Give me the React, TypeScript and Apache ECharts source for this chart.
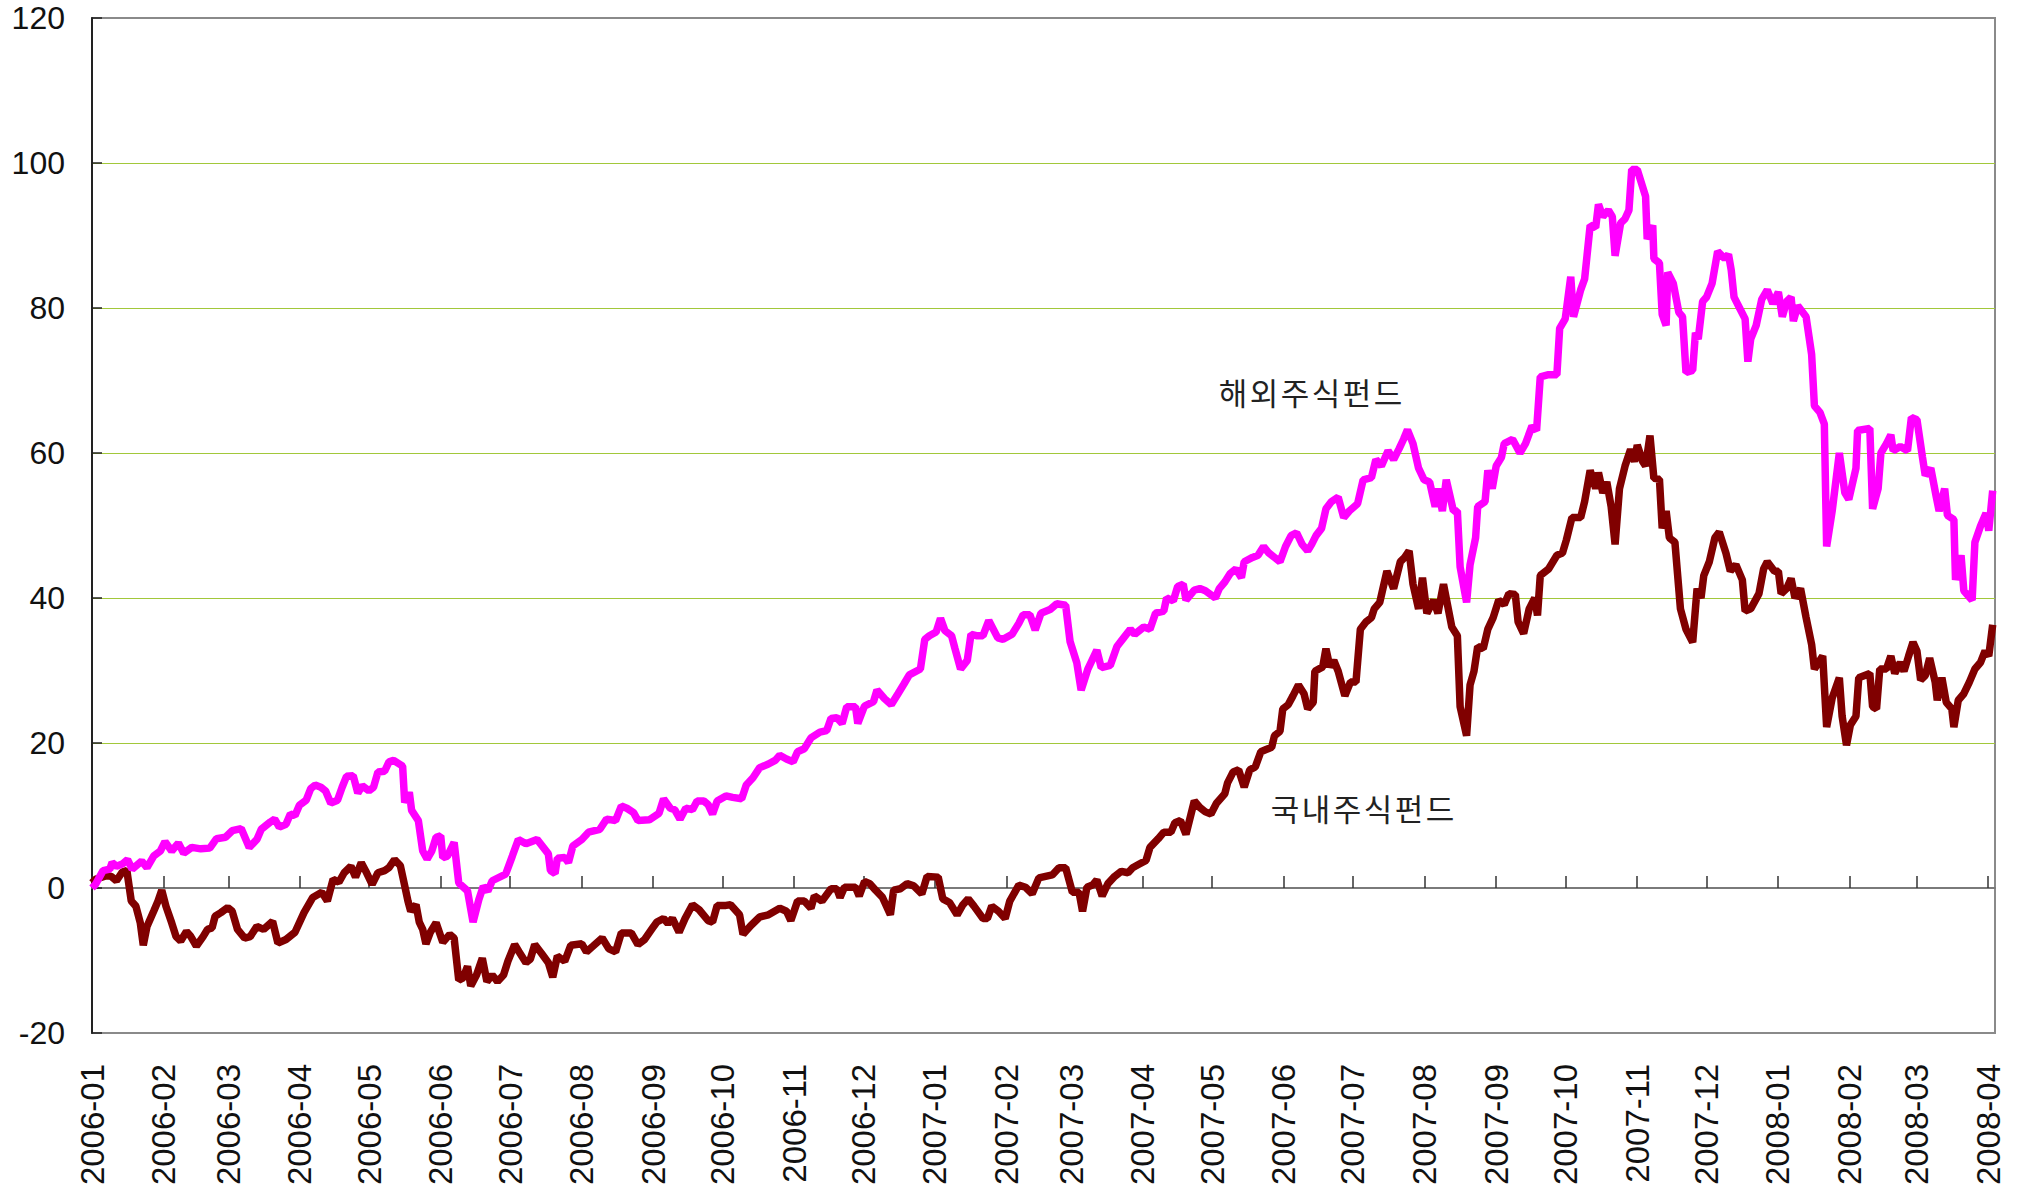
import React, { useEffect, useRef } from 'react';
import * as echarts from 'echarts';

// x values are days counted from 2006-01-01
const monthDays = [0, 31, 59, 90, 120, 151, 181, 212, 243, 273, 304, 334, 365, 396, 424, 455, 485, 516, 546, 577, 608, 638, 669, 699, 730, 761, 790, 821];
const monthLabels = ['2006-01', '2006-02', '2006-03', '2006-04', '2006-05', '2006-06', '2006-07', '2006-08', '2006-09', '2006-10', '2006-11', '2006-12', '2007-01', '2007-02', '2007-03', '2007-04', '2007-05', '2007-06', '2007-07', '2007-08', '2007-09', '2007-10', '2007-11', '2007-12', '2008-01', '2008-02', '2008-03', '2008-04'];

const foreignName = '해외주식펀드';
const domesticName = '국내주식펀드';

// 해외주식펀드 [day, value]
const foreignFund: [number, number][] = [
  [0, 0], [1.5, 0.5], [4.8, 2.4], [7.7, 2.6], [8.7, 3.5], [10.6, 3], [13.1, 3.3], [15.4, 3.9], [17.4, 2.6], [21.5, 3.7], [23.8, 2.8], [26.7, 4.4], [29.6, 5.1], [31.6, 6.4], [34.5, 5.1], [37.4, 6.2], [39.7, 4.8], [43.2, 5.6], [47.1, 5.4], [51, 5.5], [53.9, 6.8], [57.8, 7], [60.7, 7.9], [64.6, 8.2], [68.1, 5.6], [71.4, 6.7], [73.3, 8.1], [77.2, 9.1], [79.1, 9.5], [81.1, 8.4], [84, 8.8], [85.9, 10.2], [87.9, 10], [89.8, 11.4], [92.7, 12.1], [94.7, 13.7], [96.6, 14.2], [99.1, 13.9], [101.1, 13.4], [103.4, 11.7], [106.3, 12.1], [108.3, 13.9], [110.2, 15.4], [113.1, 15.5], [115.1, 13.1], [117, 14.1], [119.9, 13.4], [121.9, 13.9], [123.8, 16], [126.7, 16.1], [128.6, 17.4], [130.6, 17.6], [134.5, 16.8], [135.4, 11.8], [137.4, 13.2], [138.4, 10.7], [141.3, 9.3], [143.2, 5.1], [145.1, 4], [147.1, 5.1], [149, 7], [151, 7.2], [151.9, 4.2], [153.9, 4.4], [156.8, 6.3], [158.8, 0.7], [162.6, -0.4], [165, -4.7], [167.5, -1.6], [169.4, 0.2], [171.4, -0.4], [173.3, 1], [179.1, 1.9], [182, 4.4], [184.6, 6.7], [187.9, 6.1], [192.7, 6.7], [197.6, 4.7], [198.5, 2.4], [200.5, 2], [201.5, 4.1], [204.7, 4.2], [206.3, 3.5], [208.2, 5.8], [212.1, 6.7], [215, 7.7], [219.9, 8.1], [222.8, 9.5], [226.7, 9.3], [229.2, 11.3], [231.6, 11], [234.5, 10.4], [236.4, 9.3], [241.3, 9.4],
  [245.5, 10.3], [247.5, 12.3], [250.4, 11], [252.3, 10.8], [254.6, 9.5], [257.1, 11], [260, 10.8], [262, 12], [264.9, 12], [266.8, 11.5], [268.7, 10.2], [270.7, 12], [274.5, 12.7], [277.4, 12.5], [281.3, 12.3], [283.3, 14.2], [286.2, 15.2], [289.1, 16.6], [292.9, 17.1], [295.8, 17.6], [297.8, 18.3], [300.7, 17.8], [303.6, 17.4], [305.5, 18.8], [308.4, 19.2], [311.3, 20.7], [315.2, 21.5], [318.1, 21.7], [320, 23.4], [322.5, 23.5], [324.8, 22.7], [326.8, 25], [330.6, 25], [331.6, 22.7], [334.5, 25.1], [338.4, 25.7], [339.9, 27.3], [343.2, 26.1], [346.1, 25.3], [349, 26.8], [351.5, 28.1], [353.9, 29.4], [358.7, 30.2], [360.6, 34.3], [362.6, 34.8], [365.5, 35.3], [367.4, 37.2], [369.3, 35.5], [372.2, 34.8], [373.6, 33.1], [376.1, 30.2], [379, 31.4], [380.6, 35], [382.9, 34.8], [385.8, 34.8], [388.3, 36.9], [392.2, 34.5], [394.5, 34.3], [398.4, 35], [401.3, 36.5], [403.2, 37.7], [406.1, 37.7], [408.4, 35.6], [410.9, 37.9], [414.8, 38.4], [417.7, 39.2], [421.6, 39], [423.5, 34], [426.4, 31.1], [428.3, 27.3], [431.2, 30.2], [435.1, 32.8], [437, 30.4], [440.9, 30.7], [443.8, 33.3], [446.7, 34.5], [449.6, 35.7], [451.5, 35], [455.4, 36],
  [458.1, 35.7], [460.5, 37.9], [464.1, 38.2], [465.3, 40], [468.2, 39.6], [470.1, 41.6], [472.5, 41.9], [473.7, 39.7], [477.3, 41.1], [479.7, 41.3], [482.1, 41], [486.4, 40], [488.1, 41.3], [490.5, 42.2], [492.9, 43.4], [495.3, 44], [497.7, 42.8], [498.9, 45], [502.5, 45.6], [504.9, 45.9], [507.3, 47.1], [509.6, 46.2], [512, 45.6], [514.4, 45], [516.8, 47.1], [519.2, 48.6], [521.6, 49], [524, 47.4], [526.4, 46.5], [528.1, 47.4], [530, 48.6], [532.4, 49.6], [534.3, 52.3], [536.7, 53.3], [539.6, 53.9], [542, 51.1], [544.4, 52], [548, 53], [550.4, 56.3], [554, 56.6], [555.9, 59.1], [558.3, 58.2], [561.2, 60.3], [563.6, 59.1], [566, 60.6], [567.9, 61.9], [569.6, 63.2], [572, 61.3], [574.4, 57.9], [576.8, 56.3], [579.2, 56], [581.6, 52.6], [582.8, 55.1], [584.7, 52], [586.4, 56.3], [589.5, 52], [591.2, 52], [592.4, 44.3], [595.2, 39.4], [596.7, 44.6], [599.1, 48.3], [600, 52.6], [603.2, 53.3], [604.4, 57.6], [606.3, 55.1], [608, 58.2], [610.3, 59.4], [611.5, 61.3], [615.1, 61.9], [618.3, 60], [620.7, 61.3], [623.5, 63.7], [625.5, 63.1], [627.1, 70.5], [630.7, 70.8], [634.3, 70.8], [635.5, 77.2], [637.9, 78.5], [640.3, 84.3], [641.5, 78.8], [644.6, 82.5], [646.3, 84], [648.7, 91.4], [651.1, 91.1], [652.3, 94.3], [654.2, 92.6], [656.6, 93.5], [658.3, 92.6], [659.5, 87.2], [661.9, 91.7], [663.8, 92.3], [665.5, 93.5], [666.7, 99.1], [669.1, 99.1], [672.7, 95.4], [673.4, 89.5], [675.8, 91.4], [676.3, 86.8], [678.7, 86.2], [679.9, 79.1], [681.6, 77.6], [682.3, 84.9], [684.7, 83.4], [687.1, 79.4], [688.7, 78.8], [690.2, 71.1], [693.1, 71.4], [694.3, 76.6], [695.5, 75.7], [697.4, 80.9], [699.1, 81.5], [701.5, 83.4], [703.9, 87.8], [707, 86.8], [708.6, 87.4], [709.8, 85.2], [711, 81.5], [713.4, 80], [715.8, 78.5], [717, 72.6], [718.2, 75.7], [720.6, 77.6], [723, 81.2], [725.4, 82.5], [727.8, 80.6], [730.2, 82.2], [731.9, 78.8], [733.8, 80.9], [735.7, 81.5], [736.7, 78.2], [738.6, 80.3], [742.2, 78.8], [744.6, 73.6], [745.8, 66.5], [748.2, 65.6], [750.1, 64], [751.1, 47.1], [753.5, 52], [756.6, 60], [759, 54.5], [760.7, 53.6], [763.8, 57.9], [764.5, 63.1], [769.8, 63.4], [771, 52.3], [773.4, 55.1], [774.6, 60], [777, 61.3], [778.9, 62.5], [779.9, 60.3], [783, 60.9], [786.1, 60.3], [787.8, 64.9], [790.2, 64.6], [792.6, 59.4], [793.8, 56.9], [796.2, 57.9], [798.6, 53.9], [799.8, 52], [802.2, 55.1], [803.4, 51.4], [806.2, 50.8], [806.9, 42.5], [809.3, 45.9], [810.5, 41], [814.1, 39.7], [815.3, 47.7], [817.7, 49.9], [820.1, 51.7], [821.3, 49.3], [823, 54.8],
];

// 국내주식펀드 [day, value]
const domesticFund: [number, number][] = [
  [0, 0.7], [1.5, 1.2], [6.3, 1.7], [8.3, 1.6], [10.6, 1], [13.1, 2.2], [15.1, 2.4], [17, -1.8], [19, -2.5], [20.9, -4.8], [22.2, -7.9], [23.8, -5.3], [26.7, -3.2], [28.6, -1.8], [30.2, -0.3], [32, -2.5], [34.5, -4.8], [36.4, -6.7], [38.4, -7.3], [40.9, -6], [42.8, -6.7], [45.2, -8], [48.1, -6.7], [50, -5.7], [52, -5.5], [53.3, -3.9], [55.8, -3.4], [58.8, -2.7], [60.7, -3.2], [63, -5.7], [66.1, -6.9], [68.5, -6.7], [71.4, -5.3], [74.3, -5.7], [78.2, -4.6], [80.5, -7.6], [84, -7.1], [87.9, -6.1], [91.8, -3.4], [95.6, -1.3], [99.5, -0.6], [101.9, -1.8], [104.4, 1.2], [106.9, 0.8], [109.2, 2.1], [112.1, 3], [114.1, 1.5], [116.6, 3.5], [118.9, 2.1], [121.3, 0.5], [123.8, 2.1], [126.7, 2.4], [128.6, 2.8], [131, 3.9], [133.5, 3.1], [135.4, 0.3], [136.8, -1.8], [138, -3.2], [140.3, -2.3], [141.7, -4.7], [143.2, -5.7], [144.6, -7.7], [146.5, -6.1], [149, -4.8], [151.9, -7.5], [154.9, -6.4], [156.8, -6.9], [158.8, -12.7], [160.7, -12.4], [162.6, -10.8], [164, -13.5], [166.5, -12], [169, -9.7], [171, -12.9], [173.3, -12], [175.6, -12.9], [178.2, -12], [180.1, -10.1], [183, -7.8], [184.9, -8.8], [187.9, -10.3], [189.8, -9.8], [191.7, -7.8], [194.6, -9], [197.6, -10.3], [199.5, -12.3], [201.5, -9.4], [204.7, -10.1], [207.3, -7.9], [212.1, -7.7], [214.1, -8.8], [217, -8], [220.9, -6.9], [223.8, -8.4], [226.7, -8.8], [229.2, -6.2], [233.5, -6.2], [236.4, -7.8], [239.3, -7.1], [243.2, -5.3],
  [244.6, -4.7], [247.5, -4.2], [249.4, -4.9], [251.3, -4.2], [254.2, -6.1], [256.8, -4.2], [260, -2.3], [262.9, -3], [266.8, -4.5], [268.7, -4.7], [270.7, -2.4], [274.5, -2.4], [276.5, -2.3], [280.4, -3.7], [281.9, -6.4], [285.2, -5.2], [289.1, -4], [292.9, -3.7], [297.8, -2.8], [300.7, -3.2], [302.6, -4.5], [305.5, -1.8], [308.4, -1.8], [311.3, -2.8], [312.8, -1.1], [316.1, -1.8], [320, -0.1], [322.5, -0.1], [323.9, -1.3], [325.8, 0.1], [330.6, 0.1], [332.2, -1.1], [334.5, 0.9], [336.8, 0.6], [339.3, -0.3], [342.3, -1.3], [345.7, -3.7], [347.1, -0.3], [350, -0.1], [352.9, 0.6], [355.8, 0.3], [359.3, -0.8], [361.6, 1.6], [366.4, 1.5], [368.4, -1.5], [371.3, -2], [374.6, -3.7], [377.1, -2.3], [379.4, -1.5], [381.9, -2.5], [385.8, -4.2], [387.7, -4.2], [389.6, -2.5], [392.5, -3.2], [395.4, -4.2], [397.4, -1.8], [401.3, 0.4], [404.2, 0.1], [407.1, -0.8], [410, 1.4], [415.8, 1.8], [418.7, 2.8], [421.6, 2.8], [424.5, -0.6], [427.4, -0.6], [428.9, -3.2], [430.8, 0.1], [433.2, 0.4], [435.1, 1.1], [437.4, -1.1], [439.9, 0.6], [442.8, 1.6], [445.7, 2.3], [448.6, 2.1], [450.6, 2.8], [453.5, 3.3], [456.4, 3.8],
  [458.1, 5.6], [461.7, 6.8], [464.1, 7.7], [467.2, 7.7], [468.9, 9], [471.3, 9.3], [473.7, 7.4], [477.3, 12], [479.7, 11.1], [482.1, 10.5], [484.5, 10.2], [486.9, 11.7], [490.5, 13], [491.7, 14.5], [494.1, 16], [496.5, 16.3], [498.9, 13.9], [501.3, 16.3], [503.7, 16.7], [506.1, 18.8], [508.4, 19.1], [510.8, 19.4], [512, 21], [514.4, 21.6], [515.6, 24.7], [518, 25.3], [520, 26.5], [522.4, 28], [524.8, 26.8], [526.4, 24.7], [528.8, 25.6], [529.5, 29.9], [532.9, 30.5], [534.3, 33], [536, 30.5], [537.7, 31.4], [539.6, 29.9], [542.5, 26.5], [544.9, 28.4], [547.3, 28.4], [549.2, 35.7], [551.6, 36.7], [554, 37.3], [555.2, 38.5], [557.6, 39.4], [560.7, 43.7], [563.6, 41.3], [566.5, 45], [568.4, 45.6], [570.3, 46.5], [572, 41.9], [574.4, 38.5], [576.1, 42.8], [578, 37.9], [580.9, 39.7], [582.8, 37.9], [585.2, 41.9], [588.8, 36], [591.2, 34.8], [592.4, 25], [595.2, 21], [596.7, 28], [598.4, 29.9], [600, 33.3], [602.4, 33], [604.4, 35.7], [606.7, 37.3], [609.1, 39.7], [611.5, 39.1], [613.5, 40.6], [616.3, 40.5], [617.5, 36.7], [619.9, 35.1], [622.3, 38.5], [624.7, 40], [625.9, 37.6], [627.1, 43.1], [630.7, 44], [634.3, 45.9], [636.7, 46.2], [638.4, 48], [640.8, 51.1], [644.6, 51.1], [646.3, 53.3], [648.7, 57.6], [651.1, 55.1], [652.3, 57.3], [654.2, 54.5], [655.9, 56], [657.8, 52.6], [659.5, 47.4], [661.4, 55.1], [663.8, 58.2], [666.2, 60.5], [667.9, 58.8], [669.1, 61.1], [671.5, 58.8], [672.7, 58.2], [674.6, 62.4], [676.3, 56.5], [678.7, 56.4], [679.9, 49.6], [681.6, 52], [683, 48.3], [685.4, 47.7], [687.8, 38.5], [690.2, 35.7], [693.1, 33.9], [695, 41.3], [696.7, 40], [697.9, 43.1], [700.3, 45], [702.7, 48.3], [704.6, 49.1], [707.5, 46.2], [709.4, 43.7], [711.8, 44.6], [714.6, 42.5], [715.8, 38.2], [718.2, 38.5], [721.8, 40.6], [723.8, 44], [725.4, 45], [728.5, 43.7], [730.2, 43.7], [731.4, 40.6], [733.8, 41.3], [735.7, 42.7], [737.4, 40], [739.8, 41.3], [742.2, 37.3], [744.6, 33.6], [745.8, 30.2], [749.4, 32], [751.1, 22.2], [753.5, 26.2], [756.6, 29], [757.8, 23.7], [759.7, 19.7], [761.4, 22.5], [763.8, 23.7], [765, 29], [769.8, 29.6], [771, 25], [772.7, 24.7], [774.1, 30.2], [777, 30.2], [778.9, 32], [780.6, 29.6], [783, 31.1], [784.6, 29.9], [786.6, 32], [788.5, 33.9], [790.2, 32.7], [791.8, 28.7], [793.8, 29.3], [795.7, 31.7], [798.1, 28.4], [799, 25.9], [801, 29], [802.9, 25.6], [805.3, 24.7], [806.2, 22.2], [808.1, 25.9], [810.5, 26.8], [812.9, 28.4], [815.3, 30.2], [817.7, 31.1], [819.7, 32.7], [821.3, 32], [823, 36.3],
];

const yMin = -20;
const yMax = 120;
const yStep = 20;
const xMax = 824;

const LATIN = '"Liberation Sans", Arial, sans-serif';
const KOREAN = '"Noto Sans CJK KR", "Noto Sans", sans-serif';

// spaced-out annotation text, one glyph per element
function spacedText(text: string, firstCenterX: number, centerY: number, pitch: number) {
  return {
    type: 'group',
    children: Array.from(text).map((ch, i) => ({
      type: 'text',
      x: firstCenterX + i * pitch,
      y: centerY,
      style: { text: ch, font: `31px ${KOREAN}`, fill: '#222', verticalAlign: 'middle', align: 'center' },
    })),
  };
}

export default function App() {
  const ref = useRef<HTMLDivElement>(null);

  useEffect(() => {
    if (!ref.current) return;
    const chart = echarts.init(ref.current, undefined, { renderer: 'svg' });
    const green = '#a2c83a';
    const option: any = {
      animation: false,
      backgroundColor: '#ffffff',
      grid: {
        left: 92,
        right: 23,
        top: 18,
        bottom: 170,
        show: true,
        borderColor: '#8a8a8a',
        borderWidth: 2,
        backgroundColor: 'transparent',
        outerBoundsMode: 'none',
      },
      xAxis: [
        {
          type: 'value',
          min: 0,
          max: xMax,
          position: 'bottom',
          axisLine: { show: false, onZero: false },
          axisTick: { show: false },
          splitLine: { show: false },
          axisLabel: {
            customValues: monthDays,
            rotate: 90,
            margin: 31,
            fontSize: 33,
            fontFamily: LATIN,
            color: '#111',
            formatter: (v: number) => {
              const i = monthDays.indexOf(v);
              return i >= 0 ? monthLabels[i] : '';
            },
          },
        },
        {
          type: 'value',
          min: 0,
          max: xMax,
          position: 'bottom',
          axisLine: { show: true, onZero: true, lineStyle: { color: '#7a7a7a', width: 2 } },
          axisTick: { show: true, inside: true, length: 12, customValues: monthDays, lineStyle: { color: '#333', width: 1.5 } },
          axisLabel: { show: false },
          splitLine: { show: false },
        },
      ],
      yAxis: {
        type: 'value',
        min: yMin,
        max: yMax,
        interval: yStep,
        axisLine: { show: true, lineStyle: { color: '#222', width: 2 } },
        axisTick: { show: true, inside: true, length: 10, lineStyle: { color: '#222', width: 1.5 } },
        axisLabel: { fontSize: 32, fontFamily: LATIN, color: '#111', margin: 27 },
        splitLine: {
          show: true,
          showMinLine: true,
          showMaxLine: true,
          lineStyle: { color: ['transparent', 'transparent', green, green, green, green, green, 'transparent'], width: 1.2 },
        },
      },
      series: [
        {
          name: domesticName,
          type: 'line',
          xAxisIndex: 0,
          data: domesticFund,
          showSymbol: false,
          symbol: 'none',
          lineStyle: { color: '#800000', width: 7.5 },
          itemStyle: { color: '#800000' },
          z: 3,
        },
        {
          name: foreignName,
          type: 'line',
          xAxisIndex: 0,
          data: foreignFund,
          showSymbol: false,
          symbol: 'none',
          lineStyle: { color: '#ff00ff', width: 7.5 },
          itemStyle: { color: '#ff00ff' },
          z: 4,
        },
      ],
      graphic: [
        spacedText(foreignName, 1233, 391, 31),
        spacedText(domesticName, 1285, 807, 31),
      ],
    };
    chart.setOption(option);
    return () => chart.dispose();
  }, []);

  return (
    <div
      ref={ref}
      style={{ position: 'absolute', left: 0, top: 0, width: 2018, height: 1203, background: '#fff' }}
    />
  );
}
